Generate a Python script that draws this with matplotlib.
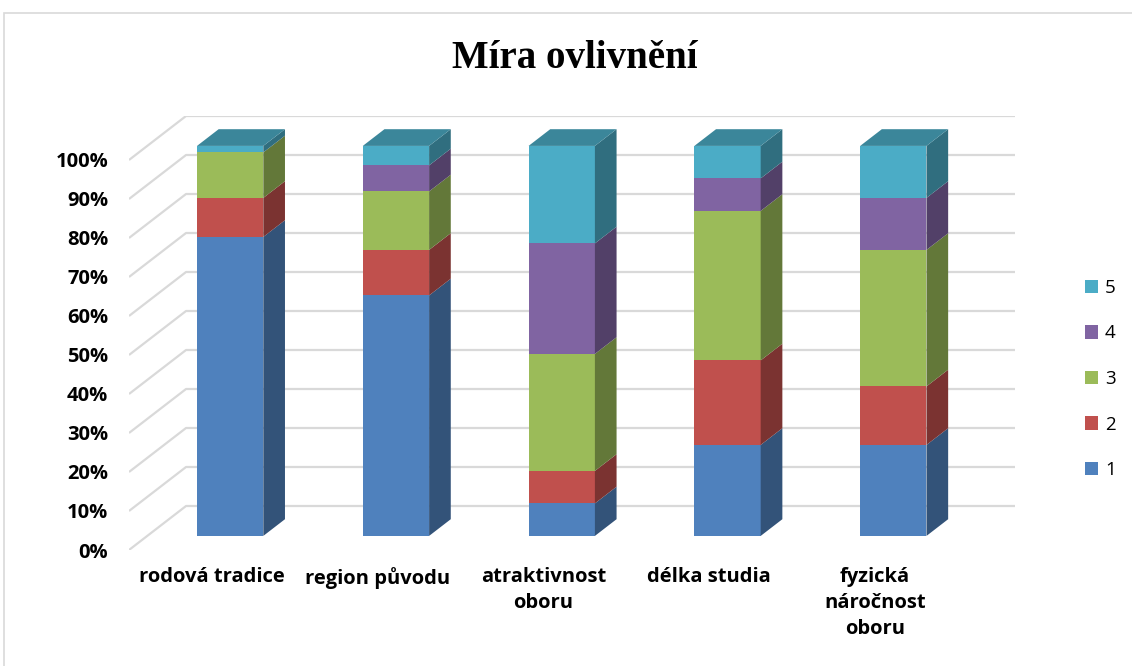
import numpy as np
import matplotlib.pyplot as plt
from matplotlib.patches import Polygon, Rectangle
from matplotlib.colors import to_rgb

# ── data: answer counts per category (score 1..5) ──────────────────────────
categories = ["rodová tradice", "region původu", "atraktivnost\noboru",
              "délka studia", "fyzická\nnáročnost\noboru"]
series_names = ["1", "2", "3", "4", "5"]
counts_1 = [46, 37, 5, 14, 14]
counts_2 = [6, 7, 5, 13, 9]
counts_3 = [7, 9, 18, 23, 21]
counts_4 = [0, 4, 17, 5, 8]
counts_5 = [1, 3, 15, 5, 8]
colors = ["#4F81BD", "#C0504D", "#9BBB59", "#8064A2", "#4BACC6"]
yticks = list(range(0, 101, 10))

counts = np.array([counts_1, counts_2, counts_3, counts_4, counts_5], dtype=float)
shares = counts / counts.sum(axis=0) * 100

# ── oblique "3D" geometry (category units / percent units) ────────────────
DX, DY = 0.344, 11.28        # full depth offset
D0, D1 = 0.32, 0.70          # bar occupies this depth slice
BAR_W = 0.40


def shade(c, f):
    r, g, b = to_rgb(c)
    return (r * f, g * f, b * f)


W, H = 1132, 666
fig = plt.figure(figsize=(W / 100, H / 100), dpi=100)
fig.patches.append(Rectangle((4 / W, -0.1), 1.2, (H - 13) / H + 0.1,
                             transform=fig.transFigure, fill=False,
                             edgecolor="#d9d9d9", lw=1.2))

ax = fig.add_axes([129 / W, (H - 550) / H, (1015 - 129) / W, (550 - 116) / H])
n = len(categories)
ax.set_xlim(-0.5, n - 0.5 + DX)
ax.set_ylim(0, 100 + DY)
for s in ax.spines.values():
    s.set_visible(False)

# gridlines: diagonal on the side wall, horizontal on the back wall
for v in yticks:
    ax.plot([-0.5, -0.5 + DX, n - 0.5 + DX], [v, v + DY, v + DY],
            color="#d9d9d9", lw=1.6, zorder=1, solid_capstyle="butt")

# bars
for i in range(n):
    x0 = i - BAR_W / 2 + D0 * DX
    x1 = x0 + BAR_W
    ox, oy = (D1 - D0) * DX, (D1 - D0) * DY
    bottom = 0.0
    for k in range(len(series_names)):
        h = shares[k, i]
        y0 = bottom + D0 * DY
        y1 = y0 + h
        if h > 0:
            ax.add_patch(Rectangle((x0, y0), BAR_W, h, facecolor=colors[k],
                                   edgecolor="none", zorder=3))
            ax.add_patch(Polygon([(x1, y0), (x1 + ox, y0 + oy),
                                  (x1 + ox, y1 + oy), (x1, y1)],
                                 facecolor=shade(colors[k], 0.64),
                                 edgecolor="none", zorder=3))
        bottom += h
    top = bottom + D0 * DY
    ax.add_patch(Polygon([(x0, top), (x1, top), (x1 + ox, top + oy),
                          (x0 + ox, top + oy)],
                         facecolor=shade(colors[-1], 0.78),
                         edgecolor="none", zorder=3))

tick_font = dict(family="Open Sans", weight="bold", size=14.5)
ax.set_yticks(yticks)
ax.set_yticklabels([f"{v}%" for v in yticks], **tick_font)
ax.set_xticks(range(n))
ax.set_xticklabels(categories, linespacing=1.42, **tick_font)
ax.tick_params(length=0)
ax.tick_params(axis="y", pad=15)
ax.tick_params(axis="x", pad=12)

fig.text(575 / W, 1 - 58 / H, "Míra ovlivnění", ha="center", va="center",
         family="Liberation Serif", weight="bold", size=28)

handles = [Rectangle((0, 0), 1, 1, facecolor=c) for c in colors]
fig.legend(handles[::-1], series_names[::-1], loc="center left",
           bbox_to_anchor=(1068 / W, 1 - 379 / H), frameon=False,
           prop=dict(family="Open Sans", size=13.5), handlelength=0.72,
           handleheight=0.72, labelspacing=1.47, handletextpad=0.35)

fig.savefig("out.png", dpi=100)
